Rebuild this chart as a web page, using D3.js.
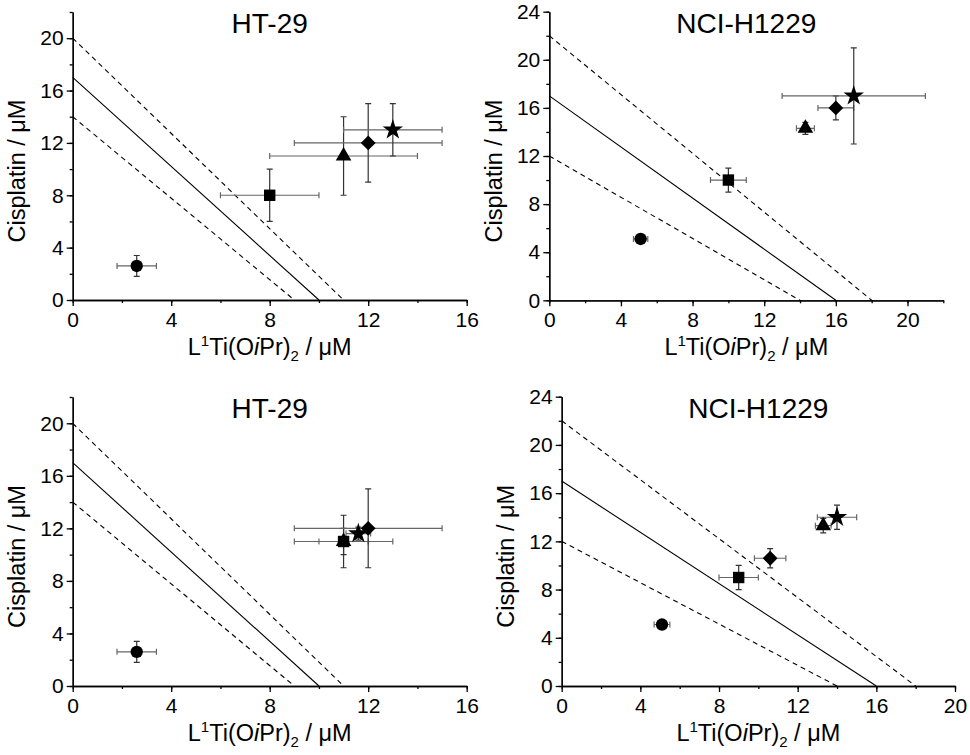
<!DOCTYPE html>
<html lang="en">
  <head>
    <meta charset="utf-8">
    <title>Isobolograms</title>
    <script src="https://d3js.org/d3.v7.min.js"></script>
    <style>
    body { margin: 0; background: #fff; }
    svg text { font-family: "Liberation Sans", Arial, sans-serif; fill: #000; }
    .axis path, .axis line { stroke: #000; stroke-width: 1.3; }
    .axis text { font-size: 21px; }
    .minor text { display: none; }
    </style>
  </head>
  <body>
    <svg id="chart" width="970" height="755"></svg>
    <script>

    // ---- data ----
    var titles = ["HT-29", "NCI-H1229", "HT-29", "NCI-H1229"];
    var xMax = [16, 22, 16, 20];
    var yMax = [22, 24, 22, 24];
    var xTickLabels = [[0, 4, 8, 12, 16], [0, 4, 8, 12, 16, 20], [0, 4, 8, 12, 16], [0, 4, 8, 12, 16, 20]];
    var yTickLabels = [[0, 4, 8, 12, 16, 20], [0, 4, 8, 12, 16, 20, 24], [0, 4, 8, 12, 16, 20], [0, 4, 8, 12, 16, 20, 24]];

    // marker order: circle, square, triangle, diamond, star
    var markers = ["circle", "square", "triangle", "diamond", "star"];

    var topLeftX = [2.6, 8, 11, 12, 13];
    var topLeftY = [2.6, 8, 11, 12, 13];
    var topLeftXErr = [0.8, 2, 3, 3, 2];
    var topLeftYErr = [0.8, 2, 3, 3, 2];

    var topRightX = [5.1, 10, 14.3, 16, 17];
    var topRightY = [5.1, 10, 14.3, 16, 17];
    var topRightXErr = [0.4, 1, 0.5, 1, 4];
    var topRightYErr = [0.3, 1, 0.5, 1, 4];

    var bottomLeftX = [2.6, 11, 11, 12, 11.6];
    var bottomLeftY = [2.6, 11, 11, 12, 11.6];
    var bottomLeftXErr = [0.8, 2, 1, 3, 0.5];
    var bottomLeftYErr = [0.8, 2, 1, 3, 0.5];

    var bottomRightX = [5.1, 9, 13.3, 10.6, 14];
    var bottomRightY = [5.1, 9, 13.3, 10.6, 14];
    var bottomRightXErr = [0.4, 1, 0.4, 0.8, 1];
    var bottomRightYErr = [0.3, 1, 0.6, 0.8, 1];

    // additivity line (solid) and its limits (dashed): intercepts on each axis
    var htIsoY = [17, 20, 14], htIsoX = [10, 11, 9];
    var nciIsoY = [17, 22, 12], nciIsoX = [16, 18, 14];

    // ---- layout ----
    var frames = [
      {left: 72.7, right: 466.7, top: 12, bottom: 300},
      {left: 549.3, right: 943.3, top: 11.7, bottom: 300.3},
      {left: 72.7, right: 466.7, top: 397, bottom: 686},
      {left: 561.7, right: 955, top: 396.7, bottom: 686}
    ];

    var series = [
      [topLeftX, topLeftY, topLeftXErr, topLeftYErr],
      [topRightX, topRightY, topRightXErr, topRightYErr],
      [bottomLeftX, bottomLeftY, bottomLeftXErr, bottomLeftYErr],
      [bottomRightX, bottomRightY, bottomRightXErr, bottomRightYErr]
    ];
    var isoY = [htIsoY, nciIsoY, htIsoY, nciIsoY];
    var isoX = [htIsoX, nciIsoX, htIsoX, nciIsoX];

    var symbolType = {
      circle: d3.symbolCircle,
      square: d3.symbolSquare,
      triangle: d3.symbolTriangle,
      diamond: d3.symbolSquare,
      star: d3.symbolStar
    };
    var symbolSize = {circle: 120, square: 130, triangle: 105, diamond: 110, star: 130};

    var svg = d3.select("#chart");

    frames.forEach(function(f, i) {
      var x = d3.scaleLinear().domain([0, xMax[i]]).range([f.left, f.right]);
      var y = d3.scaleLinear().domain([0, yMax[i]]).range([f.bottom, f.top]);
      var g = svg.append("g");

      // isobole lines
      var line = d3.line().x(function(d) { return x(d[0]); }).y(function(d) { return y(d[1]); });
      isoY[i].forEach(function(yi, k) {
        g.append("path")
          .attr("d", line([[0, yi], [isoX[i][k], 0]]))
          .attr("fill", "none")
          .attr("stroke", "#000")
          .attr("stroke-width", 1.1)
          .attr("stroke-dasharray", k === 0 ? null : "5,4");
      });

      // axes: minor ticks first, then major with labels
      g.append("g")
          .attr("class", "axis minor")
          .attr("transform", "translate(0," + f.bottom + ")")
          .call(d3.axisBottom(x).tickValues(d3.range(0, xMax[i] + 1, 2)).tickSize(3).tickSizeOuter(0));
      g.append("g")
          .attr("class", "axis minor")
          .attr("transform", "translate(" + f.left + ",0)")
          .call(d3.axisLeft(y).tickValues(d3.range(0, yMax[i] + 1, 2)).tickSize(3).tickSizeOuter(0));

      g.append("g")
          .attr("class", "axis")
          .attr("transform", "translate(0," + f.bottom + ")")
          .call(d3.axisBottom(x).tickValues(xTickLabels[i]).tickSize(6).tickSizeOuter(0).tickPadding(6));
      g.append("g")
          .attr("class", "axis")
          .attr("transform", "translate(" + f.left + ",0)")
          .call(d3.axisLeft(y).tickValues(yTickLabels[i]).tickSize(6).tickSizeOuter(0).tickPadding(3));

      g.selectAll(".axis text").attr("fill", "#000");

      // title
      g.append("text")
          .attr("x", (f.left + f.right) / 2)
          .attr("y", f.top + 21)
          .attr("text-anchor", "middle")
          .style("font-size", "28px")
          .text(titles[i]);

      // y axis title
      g.append("text")
          .attr("transform", "rotate(-90)")
          .attr("x", -((f.top + f.bottom) / 2 + 15))
          .attr("y", f.left - 56)
          .attr("dy", "0.35em")
          .attr("text-anchor", "middle")
          .style("font-size", "23.5px")
          .text("Cisplatin / μM");

      // x axis title
      var xt = g.append("text")
          .attr("x", (f.left + f.right) / 2)
          .attr("y", f.bottom + 55)
          .attr("text-anchor", "middle")
          .style("font-size", "23.5px");
      xt.append("tspan").text("L");
      xt.append("tspan").attr("dy", -9).style("font-size", "15px").text("1");
      xt.append("tspan").attr("dy", 9).text("Ti(O");
      xt.append("tspan").style("font-style", "italic").text("i");
      xt.append("tspan").text("Pr)");
      xt.append("tspan").attr("dy", 6).style("font-size", "15px").text("2");
      xt.append("tspan").attr("dy", -6).text(" / μM");

      // data points
      var s = series[i];
      var pts = markers.map(function(m, k) {
        return {shape: m, x: s[0][k], y: s[1][k], ex: s[2][k], ey: s[3][k]};
      });
      var cap = 3;

      var eb = g.selectAll(".err").data(pts).enter().append("g").attr("class", "err");
      eb.append("path")
          .attr("stroke", "#666")
          .attr("stroke-width", 1.2)
          .attr("fill", "none")
          .attr("d", function(d) {
            var x0 = x(d.x - d.ex), x1 = x(d.x + d.ex), yy = y(d.y);
            return "M" + x0 + "," + yy + "H" + x1 +
              "M" + x0 + "," + (yy - cap) + "V" + (yy + cap) +
              "M" + x1 + "," + (yy - cap) + "V" + (yy + cap);
          });
      eb.append("path")
          .attr("stroke", "#333")
          .attr("stroke-width", 1.2)
          .attr("fill", "none")
          .attr("d", function(d) {
            var y0 = y(d.y - d.ey), y1 = y(d.y + d.ey), xx = x(d.x);
            return "M" + xx + "," + y0 + "V" + y1 +
              "M" + (xx - cap) + "," + y0 + "H" + (xx + cap) +
              "M" + (xx - cap) + "," + y1 + "H" + (xx + cap);
          });

      g.selectAll(".pt").data(pts).enter().append("path")
          .attr("class", "pt")
          .attr("fill", "#000")
          .attr("transform", function(d) {
            return "translate(" + x(d.x) + "," + y(d.y) + ")" + (d.shape === "diamond" ? " rotate(45)" : "");
          })
          .attr("d", function(d) { return d3.symbol().type(symbolType[d.shape]).size(symbolSize[d.shape])(); });
    });

    </script>
  </body>
</html>
